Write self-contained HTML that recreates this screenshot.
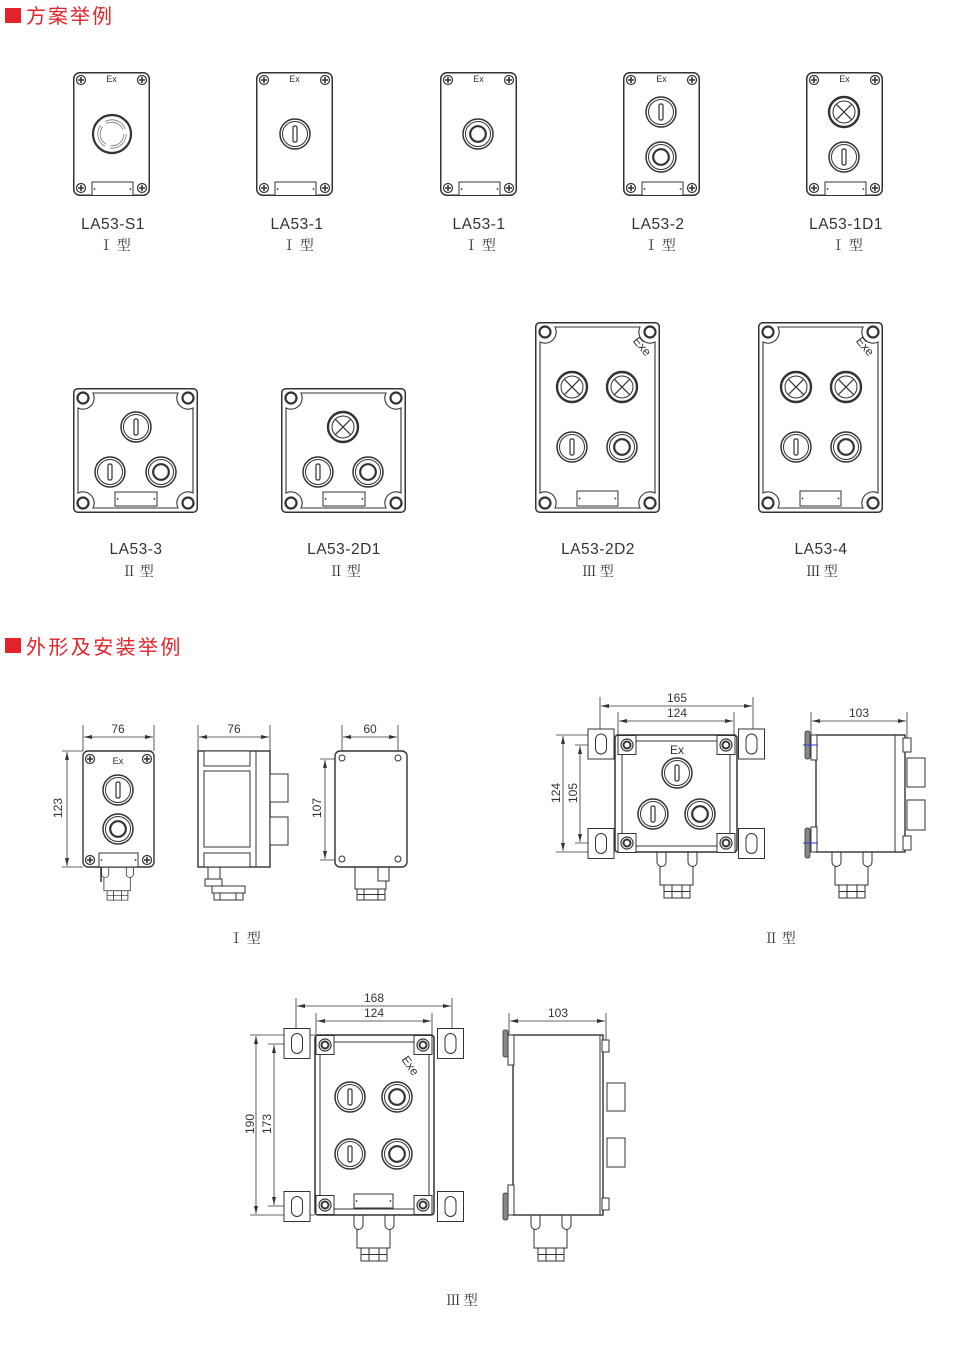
<!DOCTYPE html>
<html><head><meta charset="utf-8">
<style>
html,body{margin:0;padding:0;background:#fff;}
svg{display:block;}
text{font-family:"Liberation Sans","Noto Sans CJK SC",sans-serif;fill:#333;}
.h{font-family:"Liberation Sans","Noto Sans CJK SC",sans-serif;fill:#e3222a;font-size:20px;}
.m{font-size:15.5px;text-anchor:middle;letter-spacing:0.5px;}
.t{font-size:14px;text-anchor:middle;font-family:"Noto Serif CJK SC","Noto Sans CJK SC",serif;}
.d{font-size:12px;text-anchor:middle;}
.l{stroke:#333;fill:none;}
</style></head>
<body>
<svg width="980" height="1350" viewBox="0 0 980 1350" xmlns="http://www.w3.org/2000/svg">
<defs>
<marker id="ar" viewBox="0 0 8 4" refX="8" refY="2" markerWidth="8" markerHeight="4" orient="auto-start-reverse" markerUnits="userSpaceOnUse"><path d="M0,0 L8,2 L0,4 Z" fill="#333"/></marker>
<g id="scr"><circle r="4.5" fill="#fff" stroke="#333" stroke-width="1.2"/><path d="M-3,0H3M0,-3V3" stroke="#333" stroke-width="1.6"/></g>
<g id="bI"><circle r="15" fill="#fff" stroke="#333" stroke-width="1.5"/><circle r="12.5" fill="none" stroke="#333" stroke-width="1"/><rect x="-2" y="-8" width="4" height="16" rx="1.5" fill="none" stroke="#333" stroke-width="1.2"/></g>
<g id="bO"><circle r="15" fill="#fff" stroke="#333" stroke-width="1.5"/><circle r="12.5" fill="none" stroke="#333" stroke-width="1"/><circle r="7.8" fill="none" stroke="#333" stroke-width="2.2"/></g>
<g id="bX"><circle r="15" fill="#fff" stroke="#333" stroke-width="2.4"/><circle r="11" fill="none" stroke="#333" stroke-width="1"/><path d="M-7.8,-7.8L7.8,7.8M7.8,-7.8L-7.8,7.8" stroke="#333" stroke-width="1.2"/></g>
<g id="hole"><circle r="5.5" fill="#fff" stroke="#333" stroke-width="2.2"/></g>
<g id="s1">
<rect x="0.75" y="0.75" width="75.5" height="122.5" rx="6" fill="#fff" stroke="#333" stroke-width="1.5"/>
<use href="#scr" x="8" y="8"/><use href="#scr" x="69" y="8"/><use href="#scr" x="8" y="116"/><use href="#scr" x="69" y="116"/>
<rect x="19" y="110" width="41" height="13.5" fill="#fff" stroke="#333" stroke-width="1"/>
<circle cx="21.5" cy="117" r="0.9" fill="#333"/><circle cx="57.5" cy="117" r="0.9" fill="#333"/>
</g>
<g id="s2">
<rect x="0.75" y="0.75" width="123.5" height="123.5" rx="4" fill="#fff" stroke="#333" stroke-width="1.5"/>
<path d="M20,5 L105,5 A11.2 11.2 0 0 0 120,20 L120,105 A11.2 11.2 0 0 0 105,120 L20,120 A11.2 11.2 0 0 0 5,105 L5,20 A11.2 11.2 0 0 0 20,5Z" fill="none" stroke="#333" stroke-width="1.1"/>
<use href="#hole" x="10" y="10"/><use href="#hole" x="115" y="10"/><use href="#hole" x="10" y="115"/><use href="#hole" x="115" y="115"/>
<rect x="42" y="104" width="42" height="14" fill="#fff" stroke="#333" stroke-width="1"/>
<circle cx="44.5" cy="111" r="0.9" fill="#333"/><circle cx="81.5" cy="111" r="0.9" fill="#333"/>
</g>
<g id="s3">
<rect x="0.75" y="0.75" width="123.5" height="189.5" rx="4" fill="#fff" stroke="#333" stroke-width="1.5"/>
<path d="M20,5 L105,5 A11.2 11.2 0 0 0 120,20 L120,171 A11.2 11.2 0 0 0 105,186 L20,186 A11.2 11.2 0 0 0 5,171 L5,20 A11.2 11.2 0 0 0 20,5Z" fill="none" stroke="#333" stroke-width="1.1"/>
<use href="#hole" x="10" y="10"/><use href="#hole" x="115" y="10"/><use href="#hole" x="10" y="181"/><use href="#hole" x="115" y="181"/>
<rect x="42" y="169" width="41" height="15" fill="#fff" stroke="#333" stroke-width="1"/>
<circle cx="44.5" cy="176.5" r="0.9" fill="#333"/><circle cx="80.5" cy="176.5" r="0.9" fill="#333"/>
</g>
<g id="bh"><rect x="-9" y="-9.5" width="18" height="19" fill="#fff" stroke="#333" stroke-width="1"/><circle r="6" fill="#fff" stroke="#333" stroke-width="1.2"/><circle r="3.5" fill="none" stroke="#333" stroke-width="2"/></g>
<g id="ft"><rect x="-13" y="-15" width="26" height="30" fill="#fff" stroke="#333" stroke-width="1"/><rect x="-5.5" y="-10" width="11" height="20" rx="5.5" fill="none" stroke="#333" stroke-width="1"/></g>
<g id="gl" stroke="#333" stroke-width="1">
<rect x="-17" y="0" width="33" height="33" fill="#fff"/>
<path d="M-20,0 V10 A4.5 4.5 0 0 0 -11,10 V0 M11,0 V10 A4.5 4.5 0 0 0 20,10 V0" fill="#fff"/>
<rect x="-13" y="33" width="26" height="13" fill="#fff"/>
<path d="M-13,39.5H13M-5,33V46M5,33V46" fill="none"/>
</g>
</defs>

<!-- Header 1 -->
<rect x="5" y="8" width="16" height="15" fill="#e3222a"/>
<text class="h" x="26" y="23" letter-spacing="2">方案举例</text>

<!-- Row 1 -->
<use href="#s1" x="73" y="72"/><text x="111.5" y="82" font-size="9" text-anchor="middle">Ex</text>
<circle cx="112" cy="134" r="19" fill="#fff" stroke="#333" stroke-width="2.2"/>
<circle cx="112" cy="134" r="13" fill="none" stroke="#777" stroke-width="3.2" stroke-dasharray="22 5.2"/>
<circle cx="112" cy="134" r="13" fill="none" stroke="#fff" stroke-width="1.6" stroke-dasharray="22 5.2"/>

<use href="#s1" x="256" y="72"/><text x="294.5" y="82" font-size="9" text-anchor="middle">Ex</text>
<use href="#bI" x="295" y="134"/>

<use href="#s1" x="440" y="72"/><text x="478.5" y="82" font-size="9" text-anchor="middle">Ex</text>
<use href="#bO" x="478" y="134"/>

<use href="#s1" x="623" y="72"/><text x="661.5" y="82" font-size="9" text-anchor="middle">Ex</text>
<use href="#bI" x="661" y="112"/><use href="#bO" x="661" y="157"/>

<use href="#s1" x="806" y="72"/><text x="844.5" y="82" font-size="9" text-anchor="middle">Ex</text>
<use href="#bX" x="844" y="112"/><use href="#bI" x="844" y="157"/>

<text class="m" x="113" y="229">LA53-S1</text><text class="t" x="115" y="250">Ⅰ 型</text>
<text class="m" x="297" y="229">LA53-1</text><text class="t" x="298" y="250">Ⅰ 型</text>
<text class="m" x="479" y="229">LA53-1</text><text class="t" x="480" y="250">Ⅰ 型</text>
<text class="m" x="658" y="229">LA53-2</text><text class="t" x="660" y="250">Ⅰ 型</text>
<text class="m" x="846" y="229">LA53-1D1</text><text class="t" x="847" y="250">Ⅰ 型</text>

<!-- Row 2 -->
<use href="#s2" x="73" y="388"/>
<use href="#bI" x="136" y="427"/><use href="#bI" x="110" y="472"/><use href="#bO" x="161" y="472"/>
<use href="#s2" x="281" y="388"/>
<use href="#bX" x="343" y="427"/><use href="#bI" x="318" y="472"/><use href="#bO" x="368" y="472"/>

<use href="#s3" x="535" y="322"/>
<text x="0" y="0" font-size="12" text-anchor="middle" transform="translate(639,349) rotate(50)">Exe</text>
<use href="#bX" x="572" y="387"/><use href="#bX" x="622" y="387"/><use href="#bI" x="572" y="447"/><use href="#bO" x="622" y="447"/>
<use href="#s3" x="758" y="322"/>
<text x="0" y="0" font-size="12" text-anchor="middle" transform="translate(862,349) rotate(50)">Exe</text>
<use href="#bX" x="796" y="387"/><use href="#bX" x="846" y="387"/><use href="#bI" x="796" y="447"/><use href="#bO" x="846" y="447"/>

<text class="m" x="136" y="554">LA53-3</text><text class="t" x="138" y="576">Ⅱ 型</text>
<text class="m" x="344" y="554">LA53-2D1</text><text class="t" x="345" y="576">Ⅱ 型</text>
<text class="m" x="598" y="554">LA53-2D2</text><text class="t" x="598" y="576">Ⅲ 型</text>
<text class="m" x="821" y="554">LA53-4</text><text class="t" x="822" y="576">Ⅲ 型</text>

<!-- Header 2 -->
<rect x="5" y="638" width="16" height="15" fill="#e3222a"/>
<text class="h" x="26" y="654" letter-spacing="2.4">外形及安装举例</text>

<!-- I type: front -->
<g stroke-width="0.8" class="l">
<path d="M83,725V751M154,725V751M62,751H83M62,867H83"/>
<path d="M84,737H153" marker-start="url(#ar)" marker-end="url(#ar)"/>
<path d="M67,752V866" marker-start="url(#ar)" marker-end="url(#ar)"/>
</g>
<text class="d" x="118" y="733">76</text>
<text class="d" transform="translate(62,808) rotate(-90)">123</text>
<g transform="translate(117.5,867) scale(0.8,0.72)"><use href="#gl"/></g>
<path d="M101,858V882" stroke="#333" stroke-width="1.5"/>
<rect x="83" y="751" width="71" height="116" rx="5" fill="#fff" stroke="#333" stroke-width="1.4"/>
<use href="#scr" x="90" y="759"/><use href="#scr" x="147" y="759"/><use href="#scr" x="90" y="860"/><use href="#scr" x="147" y="860"/>
<text x="118" y="764" font-size="9.5" text-anchor="middle">Ex</text>
<use href="#bI" x="118" y="790"/><use href="#bO" x="118" y="829"/>
<rect x="99" y="853" width="39" height="14" fill="#fff" stroke="#333" stroke-width="1"/>
<circle cx="101.5" cy="860" r="0.9" fill="#333"/><circle cx="135.5" cy="860" r="0.9" fill="#333"/>

<!-- I type: side -->
<g stroke-width="0.8" class="l">
<path d="M198,725V751M270,725V751"/>
<path d="M199,737H269" marker-start="url(#ar)" marker-end="url(#ar)"/>
</g>
<text class="d" x="234" y="733">76</text>
<g stroke="#333" stroke-width="1" fill="#fff">
<rect x="208" y="867" width="12" height="14"/>
<rect x="205" y="879" width="17" height="7"/>
<rect x="212" y="886" width="33" height="7"/>
<rect x="214" y="893" width="29" height="7"/>
<path d="M220,893V900M236,893V900" fill="none"/>
<rect x="198" y="751" width="72" height="116" stroke-width="1.4"/>
<rect x="204" y="751" width="46" height="15"/>
<rect x="204" y="771" width="46" height="76"/>
<rect x="204" y="853" width="46" height="14"/>
<path d="M256,751V867" fill="none"/>
<rect x="270" y="774" width="18" height="28"/>
<rect x="270" y="817" width="18" height="28"/>
</g>

<!-- I type: back -->
<g stroke-width="0.8" class="l">
<path d="M342,725V758M398,725V758M320,759H342M320,860H342"/>
<path d="M343,737H397" marker-start="url(#ar)" marker-end="url(#ar)"/>
<path d="M325,760V859" marker-start="url(#ar)" marker-end="url(#ar)"/>
</g>
<text class="d" x="370" y="733">60</text>
<text class="d" transform="translate(321,808) rotate(-90)">107</text>
<g stroke="#333" stroke-width="1" fill="#fff">
<rect x="355" y="867" width="31" height="22"/>
<rect x="378" y="867" width="11" height="14"/>
<rect x="357" y="889" width="28" height="11"/>
<path d="M357,894.5H385M364,889V900M378,889V900" fill="none"/>
<rect x="335" y="751" width="72" height="116" rx="5" stroke-width="1.4"/>
<circle cx="342" cy="758" r="3"/><circle cx="398" cy="758" r="3"/><circle cx="342" cy="859" r="3"/><circle cx="398" cy="859" r="3"/>
</g>
<text class="t" x="245" y="943">Ⅰ 型</text>

<!-- II type front -->
<g stroke-width="0.8" class="l">
<path d="M600,697V730M753,697V730M618,712V736M734,712V736M556,735H615M556,852H615M575,745H601M575,843H601"/>
<path d="M601,706H752" marker-start="url(#ar)" marker-end="url(#ar)"/>
<path d="M619,721H733" marker-start="url(#ar)" marker-end="url(#ar)"/>
<path d="M563,736V851" marker-start="url(#ar)" marker-end="url(#ar)"/>
<path d="M580,746V842" marker-start="url(#ar)" marker-end="url(#ar)"/>
</g>
<text class="d" x="677" y="702">165</text>
<text class="d" x="677" y="717">124</text>
<text class="d" transform="translate(560,793) rotate(-90)">124</text>
<text class="d" transform="translate(577,793) rotate(-90)">105</text>
<use href="#gl" x="677" y="852"/>
<use href="#ft" x="601" y="744"/><use href="#ft" x="751.5" y="744"/><use href="#ft" x="601" y="843.5"/><use href="#ft" x="751.5" y="843.5"/>
<rect x="615" y="735" width="122" height="117" rx="3" fill="#fff" stroke="#333" stroke-width="1.5"/>
<rect x="622" y="741" width="108" height="105" rx="7" fill="none" stroke="#333" stroke-width="1"/>
<use href="#bh" x="627" y="745"/><use href="#bh" x="726" y="745"/><use href="#bh" x="627" y="843"/><use href="#bh" x="726" y="843"/>
<text x="677" y="754" font-size="12" text-anchor="middle">Ex</text>
<use href="#bI" x="677" y="773"/><use href="#bI" x="653" y="814"/><use href="#bO" x="700" y="814"/>

<!-- II type side -->
<g stroke-width="0.8" class="l">
<path d="M811,712V735M907,712V740"/>
<path d="M812,721H906" marker-start="url(#ar)" marker-end="url(#ar)"/>
</g>
<text class="d" x="859" y="717">103</text>
<use href="#gl" x="852" y="852"/>
<g stroke="#333" stroke-width="1" fill="#fff">
<rect x="907" y="758" width="18" height="29"/>
<rect x="907" y="800" width="18" height="30"/>
<rect x="816" y="735" width="89" height="117" stroke-width="1.4"/>
<rect x="811" y="735" width="6" height="25"/>
<rect x="811" y="827" width="6" height="25"/>
<path d="M895,735V852" fill="none"/>
<rect x="903" y="738" width="8" height="14"/>
<rect x="903" y="836" width="8" height="14"/>
</g>
<rect x="805" y="731" width="5" height="28" rx="2" fill="#888" stroke="#333" stroke-width="0.8"/>
<rect x="805" y="828" width="5" height="30" rx="2" fill="#888" stroke="#333" stroke-width="0.8"/>
<path d="M803,745H818M803,843H818" stroke="#2a3be0" stroke-width="1"/>
<text class="t" x="780" y="943">Ⅱ 型</text>

<!-- III type front -->
<g stroke-width="0.8" class="l">
<path d="M296,998V1029M452,998V1029M316,1013V1036M432,1013V1036M250,1035H315M250,1215H315M268,1044H297M268,1206H297"/>
<path d="M297,1006H451" marker-start="url(#ar)" marker-end="url(#ar)"/>
<path d="M317,1021H431" marker-start="url(#ar)" marker-end="url(#ar)"/>
<path d="M256,1036V1214" marker-start="url(#ar)" marker-end="url(#ar)"/>
<path d="M274,1045V1205" marker-start="url(#ar)" marker-end="url(#ar)"/>
</g>
<text class="d" x="374" y="1002">168</text>
<text class="d" x="374" y="1017">124</text>
<text class="d" transform="translate(254,1124) rotate(-90)">190</text>
<text class="d" transform="translate(271,1124) rotate(-90)">173</text>
<use href="#gl" x="374" y="1215"/>
<use href="#ft" x="297" y="1043.5"/><use href="#ft" x="450.5" y="1043.5"/><use href="#ft" x="297" y="1206.5"/><use href="#ft" x="450.5" y="1206.5"/>
<rect x="315" y="1035" width="119" height="180" rx="3" fill="#fff" stroke="#333" stroke-width="1.5"/>
<rect x="320" y="1042" width="109" height="167" rx="7" fill="none" stroke="#333" stroke-width="1"/>
<use href="#bh" x="325" y="1045"/><use href="#bh" x="423" y="1045"/><use href="#bh" x="325" y="1205"/><use href="#bh" x="423" y="1205"/>
<text x="0" y="0" font-size="12" text-anchor="middle" transform="translate(407,1068) rotate(55)">Exe</text>
<use href="#bI" x="350" y="1097"/><use href="#bO" x="397" y="1097"/><use href="#bI" x="350" y="1154"/><use href="#bO" x="397" y="1154"/>
<rect x="354" y="1194" width="39" height="14" fill="#fff" stroke="#333" stroke-width="1"/>
<circle cx="356.5" cy="1201" r="0.9" fill="#333"/><circle cx="390.5" cy="1201" r="0.9" fill="#333"/>

<!-- III type side -->
<g stroke-width="0.8" class="l">
<path d="M509,1013V1035M606,1013V1040"/>
<path d="M510,1021H605" marker-start="url(#ar)" marker-end="url(#ar)"/>
</g>
<text class="d" x="558" y="1017">103</text>
<use href="#gl" x="551" y="1215"/>
<g stroke="#333" stroke-width="1" fill="#fff">
<rect x="607" y="1083" width="18" height="28"/>
<rect x="607" y="1138" width="18" height="29"/>
<rect x="513" y="1035" width="90" height="180" stroke-width="1.4"/>
<rect x="508" y="1035" width="6" height="30"/>
<rect x="508" y="1185" width="6" height="30"/>
<path d="M600,1035V1215" fill="none"/>
<rect x="602" y="1040" width="7" height="12"/>
<rect x="602" y="1198" width="7" height="12"/>
</g>
<rect x="503" y="1030" width="5" height="27" rx="2" fill="#888" stroke="#333" stroke-width="0.8"/>
<rect x="503" y="1193" width="5" height="27" rx="2" fill="#888" stroke="#333" stroke-width="0.8"/>
<text class="t" x="462" y="1305">Ⅲ 型</text>
</svg>
</body></html>
